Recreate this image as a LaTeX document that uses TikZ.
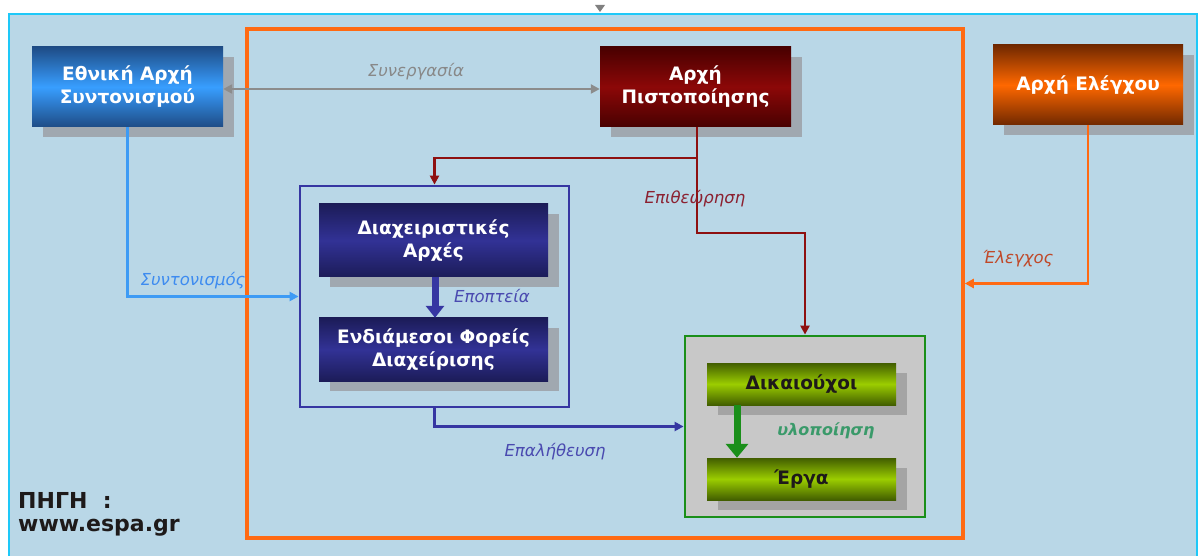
\documentclass[tikz,border=0pt]{standalone}
\usepackage{fontspec}
\setmainfont{DejaVu Sans}
\usetikzlibrary{arrows.meta,shadows}
\definecolor{bgblue}{HTML}{B9D7E7}
\definecolor{cyanb}{HTML}{1EC8F8}
\definecolor{orangef}{HTML}{FF6A13}
\definecolor{shadowgray}{HTML}{A0A8B0}
\definecolor{shadowgray2}{HTML}{A4A4A4}
\definecolor{grayline}{HTML}{8C8C8C}
\definecolor{redline}{HTML}{8E1010}
\definecolor{lblue}{HTML}{3D9BF5}
\definecolor{navyb}{HTML}{3636A2}
\definecolor{greenb}{HTML}{1A8F1A}
\definecolor{graybox}{HTML}{C8C8C8}
\definecolor{lblgray}{HTML}{888888}
\definecolor{lblred}{HTML}{8B2030}
\definecolor{lblblue}{HTML}{3D8BF0}
\definecolor{lblnavy}{HTML}{4A4AB0}
\definecolor{lblorange}{HTML}{C04828}
\definecolor{lblgreen}{HTML}{3A9A6A}
\definecolor{textdark}{HTML}{1E1A1A}
\definecolor{nacdark}{RGB}{30,76,134}
\definecolor{naclight}{RGB}{56,158,255}
\definecolor{certdark}{RGB}{72,0,0}
\definecolor{certlight}{RGB}{140,8,8}
\definecolor{auddark}{RGB}{112,40,0}
\definecolor{audlight}{RGB}{255,104,0}
\definecolor{madark}{RGB}{28,28,88}
\definecolor{malight}{RGB}{50,50,150}
\definecolor{grdark}{RGB}{66,94,0}
\definecolor{grlight}{RGB}{155,205,0}
\tikzset{
  nodetext/.style={font=\bfseries\fontsize{18.5}{23}\selectfont, align=center, inner sep=0pt},
  sbox/.style={nodetext, text=white, general shadow={fill=shadowgray, shadow xshift=11pt, shadow yshift=-10pt}},
  gbox/.style={nodetext, text=textdark, general shadow={fill=shadowgray2, shadow xshift=11pt, shadow yshift=-10pt}},
  grad/.style 2 args={shade, top color=#1, bottom color=#1, middle color=#2},
  lbl/.style={font=\itshape\fontsize{16.5}{18}\selectfont, inner sep=0pt},
  conn/.style={line width=2.8pt, -{Triangle[length=9pt,width=9pt]}},
  container/.style={draw, inner sep=0pt},
}
\begin{document}
\begin{tikzpicture}[x=1pt,y=-1pt]
\useasboundingbox (0,0) rectangle (1203,556);
\fill[white] (0,0) rectangle (1203,556);
\fill[bgblue] (9,14) rectangle (1197,556);
\draw[cyanb, line width=2.5pt] (9,556) -- (9,14) -- (1197,14) -- (1197,556);
% small marker at top
\fill[gray] (595,5) -- (605,5) -- (600,12) -- cycle;

% containers
\node[container, draw=orangef, line width=3.5pt, minimum width=716pt, minimum height=509pt] (frame) at (605,283.5) {};
\node[container, draw=navyb, line width=2.8pt, minimum width=269pt, minimum height=221pt] (bluebox) at (434.5,296.5) {};
\node[container, draw=greenb, fill=graybox, line width=2.8pt, minimum width=240pt, minimum height=181pt] (greenbox) at (805,426.5) {};

% top nodes
\node[sbox, grad={nacdark}{naclight}, minimum width=191pt, minimum height=80pt] (nac) at (127.5,87) {Εθνική Αρχή\\Συντονισμού};
\node[sbox, grad={certdark}{certlight}, minimum width=191pt, minimum height=80pt] (cert) at (695.5,87) {Αρχή\\Πιστοποίησης};
\node[sbox, grad={auddark}{audlight}, minimum width=190pt, minimum height=80pt] (audit) at (1088,85) {Αρχή Ελέγχου};

% inner blue nodes
\node[sbox, grad={madark}{malight}, minimum width=229pt, minimum height=73pt] (ma) at (433.5,240.5) {Διαχειριστικές\\Αρχές};
\node[sbox, grad={madark}{malight}, minimum width=229pt, minimum height=63pt] (ib) at (433.5,349.5) {Ενδιάμεσοι Φορείς\\Διαχείρισης};

% inner green nodes
\node[gbox, grad={grdark}{grlight}, minimum width=189pt, minimum height=42pt] (ben) at (801.5,384) {Δικαιούχοι};
\node[gbox, grad={grdark}{grlight}, minimum width=189pt, minimum height=42pt] (proj) at (801.5,479) {Έργα};

% connectors
\draw[grayline, line width=2.8pt, {Triangle[length=9pt,width=9pt]}-{Triangle[length=9pt,width=9pt]}] ([yshift=-2pt]nac.east) -- ([yshift=-2pt]cert.west);
\node[lbl, text=lblgray] (l1) at (416,72) {Συνεργασία};

\coordinate (j1) at ([xshift=1.5pt]cert.south |- 0,158);
\coordinate (j2) at ([xshift=1.5pt]cert.south |- 0,233);
\draw[redline, conn] ([xshift=1.5pt]cert.south) -- (j1) -| (bluebox.north);
\draw[redline, conn] ([xshift=1.5pt]cert.south) -- (j2) -| (greenbox.north);
\node[lbl, text=lblred] (l2) at (695,199) {Επιθεώρηση};

\draw[lblue, conn] (nac.south) |- (bluebox.west);
\node[lbl, text=lblblue] (l3) at (193,281) {Συντονισμός};

\draw[navyb, line width=7pt, -{Triangle[length=12pt,width=18pt]}] ([xshift=1.5pt]ma.south) -- ([xshift=1.5pt]ib.north);
\node[lbl, text=lblnavy] (l4) at (492,296) {Εποπτεία};

\draw[navyb, conn] (bluebox.south) |- (greenbox.west);
\node[lbl, text=lblnavy] (l5) at (555,452) {Επαλήθευση};

\draw[orangef, conn] (audit.south) |- (frame.east);
\node[lbl, text=lblorange] (l6) at (1018,259) {Έλεγχος};

\draw[greenb, line width=7pt, -{Triangle[length=14pt,width=22pt]}] ([xshift=-64.5pt]ben.south) -- ([xshift=-64.5pt]proj.north);
\node[lbl, text=lblgreen, font=\bfseries\itshape\fontsize{16}{18}\selectfont] (l7) at (826,431) {υλοποίηση};

\node[font=\bfseries\fontsize{22}{23}\selectfont, text=textdark, align=left, anchor=base west, inner sep=0pt] (src) at (18,531) {ΠΗΓΗ \ :\\www.espa.gr};
\end{tikzpicture}
\end{document}
